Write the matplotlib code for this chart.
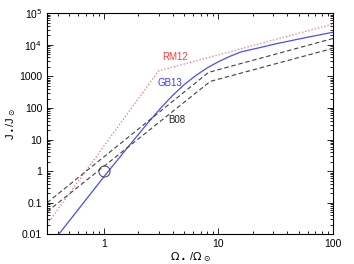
import matplotlib
matplotlib.use("Agg")
import matplotlib.pyplot as plt

# curves (Omega/Omega_sun, J/J_sun)
rm12_x = [0.32, 3.0, 100]
rm12_y = [0.021, 1500, 46000]

gb13_x = [0.40, 1.0, 1.585, 2.37, 3.16, 3.98, 5.01, 6.31, 7.94, 10, 12.6, 15.8, 22.4, 31.6, 56.2, 100]
gb13_y = [0.0095, 0.66, 5.2, 30.8, 103, 250, 546, 1060, 1850, 2940, 4350, 6040, 8040, 10800, 16700, 25200]

b08_hi_x = [0.32, 8.2, 100]
b08_hi_y = [0.1, 1350, 16000]
b08_lo_x = [0.32, 8.5, 100]
b08_lo_y = [0.052, 700, 7800]

sun_x = [1.0]
sun_y = [1.0]

plt.rcParams['font.family'] = ['Liberation Sans', 'DejaVu Sans']
plt.rcParams['mathtext.fontset'] = 'dejavusans'

fig = plt.figure(figsize=(3.54, 2.64), dpi=100)
ax = fig.add_axes([0.133, 0.1125, 0.808, 0.837])

ax.plot(rm12_x, rm12_y, ':', color='#ff6a6a', lw=0.9)
ax.plot(gb13_x, gb13_y, '-', color='#4a4aff', lw=0.9)
ax.plot(b08_hi_x, b08_hi_y, '--', color='#404040', lw=0.8, dashes=(4, 2.5))
ax.plot(b08_lo_x, b08_lo_y, '--', color='#404040', lw=0.8, dashes=(4, 2.5))
ax.plot(sun_x, sun_y, 'o', mfc='none', mec='#404040', ms=8, mew=0.7)

ax.text(4.2, 4100, 'RM12', color='#ff3a3a', fontsize=7, ha='center', va='center')
ax.text(3.8, 630, 'GB13', color='#3a3aff', fontsize=7, ha='center', va='center')
ax.text(4.3, 42, 'B08', color='#222222', fontsize=7, ha='center', va='center')

ax.set_xscale('log')
ax.set_yscale('log')
ax.set_xlim(0.32, 100)
ax.set_ylim(0.01, 1e5)

ax.set_xticks([1, 10, 100])
ax.set_xticklabels(['1', '10', '100'])
ax.set_yticks([0.01, 0.1, 1, 10, 100, 1000, 1e4, 1e5])
ax.set_yticklabels(['0.01', '0.1', '1', '10', '100', '1000', r'10$^4$', r'10$^5$'])

ax.tick_params(which='both', direction='in', top=True, right=True, labelsize=7.5, width=0.6)
ax.tick_params(which='major', length=4)
ax.tick_params(which='minor', length=2)
for s in ax.spines.values():
    s.set_linewidth(0.8)

ax.set_xlabel(r'$\Omega_\bullet$ /$\Omega_\odot$', fontsize=8, labelpad=1)
ax.set_ylabel(r'J$_\bullet$/J$_\odot$', fontsize=8, labelpad=1)

fig.savefig('out.png', dpi=100)
